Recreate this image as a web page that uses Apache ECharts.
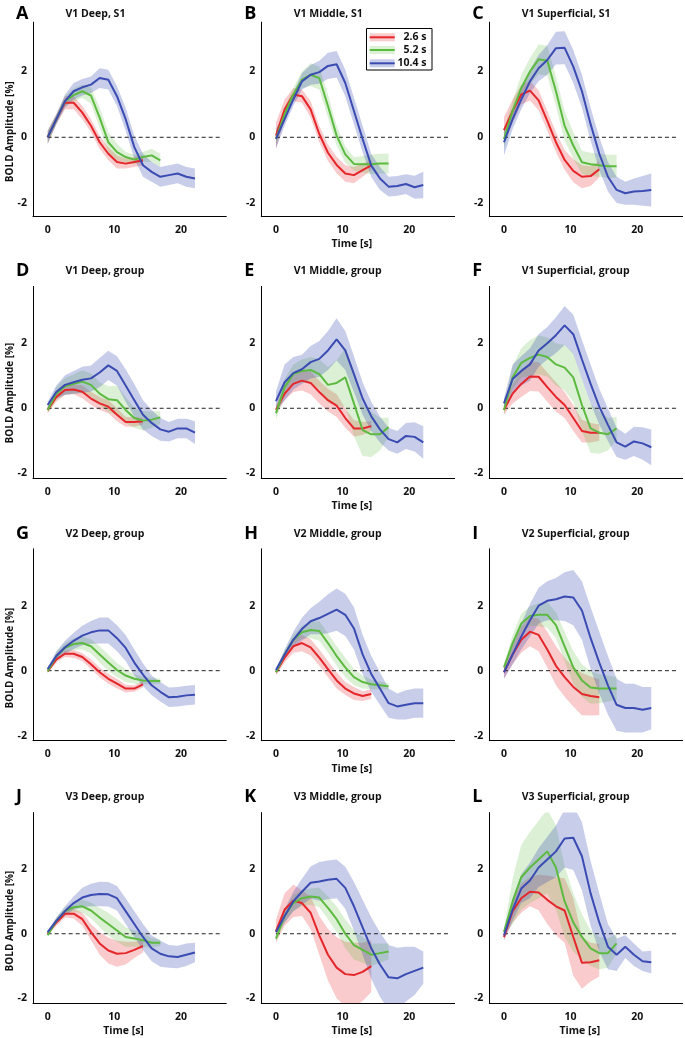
<!DOCTYPE html>
<html>
<head>
<meta charset="utf-8">
<script src="https://cdn.jsdelivr.net/npm/echarts@6/dist/echarts.min.js"></script>
<style>
html,body{margin:0;padding:0;background:#fff;}
#chart{width:685px;height:1038px;}
</style>
</head>
<body>
<div id="chart"></div>
<script>
// ---------- data ----------
const T_RED   = [0,1.3,2.6,3.9,5.2,6.5,7.8,9.1,10.4,11.7,13,14.3];
const T_GREEN = [0,1.3,2.6,3.9,5.2,6.5,7.8,9.1,10.4,11.7,13,14.3,15.6,16.9];
const T_BLUE  = [0,1.3,2.6,3.9,5.2,6.5,7.8,9.1,10.4,11.7,13,14.3,15.6,16.9,18.2,19.5,20.8,22.1];
const X_TICKS = [0,10,20];
const Y_TICKS = [-2,0,2];
const LEGEND_LABELS = ['2.6 s','5.2 s','10.4 s'];
const PANEL_LETTERS = ['A','B','C','D','E','F','G','H','I','J','K','L'];
const PANEL_TITLES = ['V1 Deep, S1','V1 Middle, S1','V1 Superficial, S1',
  'V1 Deep, group','V1 Middle, group','V1 Superficial, group',
  'V2 Deep, group','V2 Middle, group','V2 Superficial, group',
  'V3 Deep, group','V3 Middle, group','V3 Superficial, group'];
const X_LABEL = 'Time [s]';
const Y_LABEL = 'BOLD Amplitude [%]';

const A_red = [0,0.55,1.05,1.05,0.75,0.35,-0.15,-0.5,-0.75,-0.8,-0.75,-0.7];
const A_redErr = [0.2,0.15,0.2,0.2,0.2,0.2,0.2,0.2,0.2,0.15,0.15,0.15];
const A_green = [0,0.55,1.1,1.28,1.4,1.27,0.6,-0.15,-0.45,-0.6,-0.68,-0.6,-0.55,-0.7];
const A_greenErr = [0.2,0.15,0.15,0.2,0.2,0.25,0.3,0.3,0.25,0.15,0.15,0.15,0.2,0.2];
const A_blue = [0,0.55,1.1,1.4,1.52,1.6,1.8,1.75,1.25,0.55,-0.3,-0.85,-1.05,-1.2,-1.15,-1.1,-1.2,-1.25];
const A_blueErr = [0.2,0.15,0.2,0.25,0.25,0.25,0.3,0.3,0.3,0.35,0.35,0.35,0.3,0.3,0.3,0.3,0.3,0.3];

const B_red = [0.05,0.85,1.3,1.25,0.85,0.1,-0.47,-0.84,-1.1,-1.15,-1.0,-0.85];
const B_redErr = [0.4,0.3,0.2,0.2,0.25,0.25,0.25,0.25,0.25,0.25,0.2,0.15];
const B_green = [-0.05,0.7,1.3,1.75,1.9,1.8,0.95,0.05,-0.52,-0.81,-0.82,-0.82,-0.8,-0.8];
const B_greenErr = [0.2,0.2,0.2,0.25,0.35,0.35,0.35,0.3,0.25,0.2,0.25,0.3,0.3,0.3];
const B_blue = [-0.05,0.55,1.15,1.7,1.9,1.98,2.17,2.22,1.65,0.8,-0.05,-0.86,-1.25,-1.5,-1.48,-1.42,-1.52,-1.45];
const B_blueErr = [0.3,0.2,0.2,0.25,0.3,0.35,0.4,0.4,0.4,0.4,0.4,0.35,0.35,0.3,0.3,0.3,0.35,0.4];

const C_red = [0.22,0.8,1.3,1.42,1.12,0.5,-0.15,-0.69,-1.02,-1.2,-1.18,-0.97];
const C_redErr = [0.4,0.35,0.3,0.3,0.3,0.3,0.3,0.3,0.35,0.35,0.3,0.25];
const C_green = [-0.05,0.8,1.5,2.0,2.37,2.33,1.4,0.35,-0.25,-0.76,-0.82,-0.85,-0.88,-0.88];
const C_greenErr = [0.3,0.3,0.4,0.4,0.45,0.45,0.45,0.45,0.4,0.35,0.35,0.35,0.35,0.35];
const C_blue = [-0.15,0.55,1.15,1.7,2.1,2.35,2.71,2.72,2.15,1.4,0.4,-0.5,-1.2,-1.6,-1.7,-1.65,-1.63,-1.6];
const C_blueErr = [0.4,0.3,0.3,0.35,0.4,0.45,0.5,0.5,0.5,0.5,0.5,0.5,0.45,0.4,0.35,0.4,0.45,0.5];

const D_red = [-0.05,0.35,0.56,0.58,0.51,0.3,0.15,0.05,-0.2,-0.42,-0.42,-0.4];
const D_redErr = [0.1,0.15,0.15,0.15,0.2,0.2,0.2,0.2,0.2,0.15,0.15,0.1];
const D_green = [-0.05,0.45,0.68,0.75,0.82,0.72,0.45,0.28,0.25,-0.05,-0.3,-0.38,-0.35,-0.28];
const D_greenErr = [0.1,0.2,0.25,0.3,0.35,0.35,0.35,0.4,0.45,0.4,0.3,0.3,0.25,0.2];
const D_blue = [0.1,0.5,0.72,0.8,0.88,0.92,1.1,1.32,1.15,0.7,0.25,-0.2,-0.45,-0.65,-0.72,-0.62,-0.62,-0.75];
const D_blueErr = [0.1,0.2,0.3,0.35,0.4,0.4,0.45,0.45,0.45,0.5,0.5,0.45,0.4,0.35,0.3,0.3,0.3,0.35];

const E_red = [-0.05,0.45,0.75,0.85,0.78,0.5,0.25,0.08,-0.3,-0.62,-0.62,-0.55];
const E_redErr = [0.15,0.2,0.25,0.3,0.35,0.35,0.35,0.35,0.3,0.25,0.2,0.15];
const E_green = [-0.15,0.65,1.05,1.15,1.18,1.05,0.72,0.78,0.95,0.15,-0.67,-0.8,-0.8,-0.58];
const E_greenErr = [0.2,0.25,0.3,0.35,0.4,0.45,0.55,0.7,0.9,1.0,0.8,0.7,0.5,0.3];
const E_blue = [0.22,0.8,1.08,1.2,1.42,1.52,1.78,2.12,1.78,1.05,0.3,-0.25,-0.65,-0.95,-1.05,-0.85,-0.88,-1.05];
const E_blueErr = [0.3,0.55,0.5,0.45,0.5,0.55,0.6,0.65,0.6,0.55,0.5,0.45,0.4,0.35,0.35,0.4,0.45,0.5];

const F_red = [-0.05,0.45,0.75,0.98,0.97,0.65,0.35,0.1,-0.3,-0.7,-0.75,-0.75];
const F_redErr = [0.15,0.3,0.4,0.45,0.45,0.45,0.45,0.4,0.4,0.35,0.3,0.25];
const F_green = [-0.05,0.95,1.4,1.55,1.65,1.58,1.35,1.25,0.95,0.1,-0.62,-0.75,-0.8,-0.62];
const F_greenErr = [0.15,0.35,0.45,0.55,0.6,0.6,0.65,0.7,0.75,0.8,0.75,0.65,0.5,0.35];
const F_blue = [0.15,0.9,1.15,1.35,1.78,2.0,2.25,2.55,2.28,1.5,0.75,0.05,-0.51,-1.05,-1.18,-1.02,-1.08,-1.2];
const F_blueErr = [0.15,0.45,0.45,0.5,0.5,0.5,0.55,0.6,0.6,0.6,0.6,0.55,0.5,0.45,0.4,0.45,0.5,0.55];

const G_red = [-0.02,0.35,0.52,0.52,0.42,0.2,-0.05,-0.25,-0.4,-0.55,-0.55,-0.42];
const G_redErr = [0.05,0.1,0.1,0.12,0.12,0.15,0.15,0.15,0.15,0.12,0.1,0.1];
const G_green = [-0.02,0.45,0.7,0.82,0.85,0.75,0.5,0.25,0.02,-0.15,-0.25,-0.3,-0.32,-0.32];
const G_greenErr = [0.05,0.12,0.15,0.18,0.2,0.22,0.25,0.25,0.22,0.2,0.15,0.12,0.1,0.08];
const G_blue = [0.05,0.45,0.72,0.92,1.08,1.18,1.24,1.24,1.0,0.7,0.25,-0.12,-0.45,-0.65,-0.82,-0.8,-0.76,-0.74];
const G_blueErr = [0.05,0.15,0.2,0.25,0.3,0.35,0.4,0.4,0.4,0.4,0.4,0.35,0.3,0.3,0.3,0.3,0.3,0.3];

const H_red = [-0.05,0.4,0.75,0.85,0.72,0.4,0.05,-0.3,-0.55,-0.7,-0.78,-0.72];
const H_redErr = [0.1,0.15,0.2,0.25,0.25,0.25,0.25,0.25,0.2,0.2,0.15,0.15];
const H_green = [-0.05,0.5,0.95,1.18,1.25,1.22,0.85,0.45,0.1,-0.2,-0.35,-0.42,-0.45,-0.48];
const H_greenErr = [0.05,0.12,0.15,0.2,0.25,0.3,0.3,0.3,0.3,0.25,0.2,0.15,0.12,0.1];
const H_blue = [0.02,0.5,0.95,1.28,1.52,1.62,1.75,1.88,1.72,1.3,0.5,-0.1,-0.55,-1.0,-1.1,-1.05,-1.0,-1.0];
const H_blueErr = [0.05,0.15,0.25,0.35,0.4,0.5,0.6,0.65,0.65,0.65,0.6,0.55,0.5,0.45,0.4,0.45,0.45,0.45];

const I_red = [-0.05,0.5,0.95,1.2,1.1,0.65,0.15,-0.2,-0.5,-0.72,-0.78,-0.82];
const I_redErr = [0.2,0.3,0.4,0.45,0.5,0.55,0.6,0.6,0.6,0.65,0.6,0.55];
const I_green = [0.1,0.85,1.45,1.68,1.72,1.72,1.4,0.75,0.1,-0.3,-0.52,-0.55,-0.55,-0.55];
const I_greenErr = [0.1,0.25,0.3,0.3,0.35,0.4,0.4,0.45,0.5,0.5,0.5,0.45,0.4,0.35];
const I_blue = [-0.05,0.5,1.05,1.55,2.0,2.15,2.2,2.28,2.25,1.85,1.0,0.25,-0.45,-1.05,-1.15,-1.15,-1.2,-1.15];
const I_blueErr = [0.2,0.3,0.4,0.5,0.55,0.6,0.65,0.75,0.85,0.9,0.95,0.95,0.9,0.8,0.75,0.75,0.7,0.65];

const J_red = [0.0,0.35,0.62,0.62,0.45,0.05,-0.3,-0.52,-0.62,-0.6,-0.5,-0.38];
const J_redErr = [0.05,0.1,0.12,0.15,0.2,0.25,0.35,0.4,0.4,0.35,0.25,0.2];
const J_green = [-0.05,0.4,0.7,0.82,0.85,0.72,0.5,0.3,0.1,-0.1,-0.15,-0.2,-0.28,-0.28];
const J_greenErr = [0.05,0.1,0.12,0.15,0.2,0.25,0.3,0.35,0.35,0.3,0.25,0.2,0.15,0.1];
const J_blue = [0.05,0.4,0.7,0.95,1.12,1.2,1.23,1.22,1.1,0.7,0.3,-0.1,-0.45,-0.62,-0.7,-0.72,-0.65,-0.58];
const J_blueErr = [0.05,0.1,0.15,0.2,0.3,0.35,0.38,0.38,0.38,0.4,0.4,0.4,0.4,0.4,0.35,0.35,0.35,0.3];

const K_red = [0.08,0.75,1.02,0.95,0.65,-0.05,-0.65,-1.05,-1.25,-1.28,-1.18,-1.0];
const K_redErr = [0.35,0.5,0.5,0.4,0.5,0.6,0.8,0.95,1.0,1.0,0.9,0.8];
const K_green = [-0.15,0.55,0.95,1.1,1.15,1.12,0.8,0.45,0.0,-0.35,-0.5,-0.65,-0.6,-0.55];
const K_greenErr = [0.1,0.2,0.25,0.25,0.25,0.3,0.35,0.4,0.45,0.45,0.4,0.35,0.3,0.25];
const K_blue = [0.05,0.55,1.0,1.3,1.58,1.62,1.67,1.7,1.42,0.85,0.2,-0.45,-0.95,-1.35,-1.38,-1.25,-1.15,-1.05];
const K_blueErr = [0.1,0.2,0.3,0.4,0.5,0.6,0.6,0.6,0.65,0.75,0.85,0.95,1.0,1.0,0.95,0.85,0.75,0.5];

const L_red = [-0.1,0.7,1.1,1.3,1.28,1.05,0.85,0.72,-0.1,-0.9,-0.88,-0.82];
const L_redErr = [0.1,0.35,0.45,0.45,0.55,0.75,0.9,1.0,1.2,0.8,0.6,0.5];
const L_green = [0.05,1.0,1.75,2.05,2.3,2.55,2.05,1.0,0.35,-0.1,-0.45,-0.6,-0.6,-0.3];
const L_greenErr = [0.1,0.7,1.0,1.1,1.2,1.3,1.3,1.1,0.9,0.7,0.55,0.5,0.45,0.3];
const L_blue = [-0.05,0.75,1.4,1.65,2.05,2.3,2.55,2.95,2.97,2.4,1.25,0.35,-0.4,-0.65,-0.4,-0.65,-0.85,-0.88];
const L_blueErr = [0.15,0.35,0.45,0.55,0.6,0.7,0.8,0.9,1.0,1.05,1.0,0.9,0.7,0.5,0.35,0.35,0.3,0.35];

const PANELS = [
  [A_red,A_redErr,A_green,A_greenErr,A_blue,A_blueErr],
  [B_red,B_redErr,B_green,B_greenErr,B_blue,B_blueErr],
  [C_red,C_redErr,C_green,C_greenErr,C_blue,C_blueErr],
  [D_red,D_redErr,D_green,D_greenErr,D_blue,D_blueErr],
  [E_red,E_redErr,E_green,E_greenErr,E_blue,E_blueErr],
  [F_red,F_redErr,F_green,F_greenErr,F_blue,F_blueErr],
  [G_red,G_redErr,G_green,G_greenErr,G_blue,G_blueErr],
  [H_red,H_redErr,H_green,H_greenErr,H_blue,H_blueErr],
  [I_red,I_redErr,I_green,I_greenErr,I_blue,I_blueErr],
  [J_red,J_redErr,J_green,J_greenErr,J_blue,J_blueErr],
  [K_red,K_redErr,K_green,K_greenErr,K_blue,K_blueErr],
  [L_red,L_redErr,L_green,L_greenErr,L_blue,L_blueErr]
];

// ---------- layout / style ----------
const FONT = '"Open Sans", Lato, sans-serif';
const COLORS = ['#e5262a', '#5dba40', '#3a4bb2'];
const BANDS = ['rgba(229,38,42,0.24)', 'rgba(93,186,64,0.22)', 'rgba(58,75,178,0.28)'];
const COL_LEFT = [33, 261.3, 489.3];
const GRID_W = 193.3;
const ROW_TOP = [22.15, 286.4, 548.8, 812.6];
const ROW_H = [194.1, 191.75, 191.75, 190.6];
const ROW_YMIN = [-2.4, -2.15, -2.15, -2.15];
const ROW_YMAX = [3.5, 3.75, 3.75, 3.75];
const X_MIN = -2.2, X_MAX = 26.8;
const ROW_LETTER_Y = [14, 271, 534, 797];
const Y_LABEL_Y = [131.7, 393, 658, 921];

const grids = [], xAxes = [], yAxes = [], series = [], graphics = [];

function bandSeries(gi, t, mean, err, fill) {
  const data = t.map((x, i) => [x, mean[i] - err[i], mean[i] + err[i]]);
  return {
    type: 'custom', xAxisIndex: gi, yAxisIndex: gi, data: data, clip: true, silent: true, z: 1,
    encode: { x: 0, y: [1, 2] },
    renderItem: function (params, api) {
      if (params.dataIndex !== 0) return null;
      const up = [], lo = [];
      for (let i = 0; i < data.length; i++) {
        up.push(api.coord([data[i][0], data[i][2]]));
        lo.push(api.coord([data[i][0], data[i][1]]));
      }
      return { type: 'polygon', shape: { points: up.concat(lo.reverse()) }, style: { fill: fill } };
    }
  };
}

for (let p = 0; p < 12; p++) {
  const r = Math.floor(p / 3), c = p % 3;
  grids.push({ left: COL_LEFT[c], top: ROW_TOP[r], width: GRID_W, height: ROW_H[r], containLabel: false });
  xAxes.push({
    type: 'value', gridIndex: p, min: X_MIN, max: X_MAX,
    axisLine: { show: true, onZero: false, lineStyle: { color: '#000', width: 1 } },
    axisTick: { show: false },
    splitLine: { show: false },
    axisLabel: { customValues: X_TICKS, margin: 8, color: '#111', fontFamily: FONT, fontWeight: 'bold', fontSize: 10.5 }
  });
  yAxes.push({
    type: 'value', gridIndex: p, min: ROW_YMIN[r], max: ROW_YMAX[r],
    axisLine: { show: true, onZero: false, lineStyle: { color: '#000', width: 1 } },
    axisTick: { show: false },
    splitLine: { show: false },
    axisLabel: { customValues: Y_TICKS, margin: 6, color: '#111', fontFamily: FONT, fontWeight: 'bold', fontSize: 10.5 }
  });
  const d = PANELS[p];
  const ts = [T_RED, T_GREEN, T_BLUE];
  for (let k = 0; k < 3; k++) series.push(bandSeries(p, ts[k], d[2 * k], d[2 * k + 1], BANDS[k]));
  series.push({
    type: 'line', xAxisIndex: p, yAxisIndex: p, data: [[0, 0], [26, 0]], showSymbol: false, silent: true, z: 2,
    lineStyle: { color: '#222', width: 1, type: [4, 3] }
  });
  for (let k = 0; k < 3; k++) {
    series.push({
      type: 'line', xAxisIndex: p, yAxisIndex: p, data: ts[k].map((x, i) => [x, d[2 * k][i]]),
      showSymbol: false, silent: true, z: 3, clip: true,
      lineStyle: { color: COLORS[k], width: 2 }, itemStyle: { color: COLORS[k] }
    });
  }
  graphics.push({ type: 'text', x: COL_LEFT[c] - 17, y: ROW_LETTER_Y[r], z: 50,
    style: { text: PANEL_LETTERS[p], font: 'bold 18px ' + FONT, fill: '#000', verticalAlign: 'middle', align: 'left' } });
  graphics.push({ type: 'text', x: COL_LEFT[c] + 32.5, y: ROW_LETTER_Y[r], z: 50,
    style: { text: PANEL_TITLES[p], font: 'bold 10.5px ' + FONT, fill: '#111', verticalAlign: 'middle', align: 'left' } });
  if (c === 1 || r === 3) {
    graphics.push({ type: 'text', x: COL_LEFT[c] + 90.5, y: ROW_TOP[r] + ROW_H[r] + 28, z: 50,
      style: { text: X_LABEL, font: 'bold 10.5px ' + FONT, fill: '#111', verticalAlign: 'middle', align: 'center' } });
  }
  if (c === 0) {
    graphics.push({ type: 'text', x: 10, y: Y_LABEL_Y[r], rotation: Math.PI / 2, z: 50,
      style: { text: Y_LABEL, font: 'bold 10px ' + FONT, fill: '#111', verticalAlign: 'middle', align: 'center' } });
  }
}

// legend (panel B)
const LG = { x: 366.5, y: 28.5, w: 65.5, h: 41.5 };
graphics.push({ type: 'rect', z: 60, shape: { x: LG.x, y: LG.y, width: LG.w, height: LG.h },
  style: { fill: '#fff', stroke: '#000', lineWidth: 1 } });
const LEG_ROWS = [37.3, 50, 63.3];
for (let k = 0; k < 3; k++) {
  graphics.push({ type: 'rect', z: 61, shape: { x: 369.7, y: LEG_ROWS[k] - 4, width: 25, height: 8 },
    style: { fill: BANDS[k] } });
  graphics.push({ type: 'line', z: 62, shape: { x1: 369.7, y1: LEG_ROWS[k], x2: 394.7, y2: LEG_ROWS[k] },
    style: { stroke: COLORS[k], lineWidth: 2 } });
  graphics.push({ type: 'text', z: 62, x: 426.5, y: LEG_ROWS[k],
    style: { text: LEGEND_LABELS[k], font: 'bold 10.5px ' + FONT, fill: '#111', align: 'right', verticalAlign: 'middle' } });
}

const chart = echarts.init(document.getElementById('chart'), null, { renderer: 'canvas' });
chart.setOption({
  animation: false,
  backgroundColor: '#fff',
  grid: grids, xAxis: xAxes, yAxis: yAxes, series: series, graphic: graphics
});
</script>
</body>
</html>
